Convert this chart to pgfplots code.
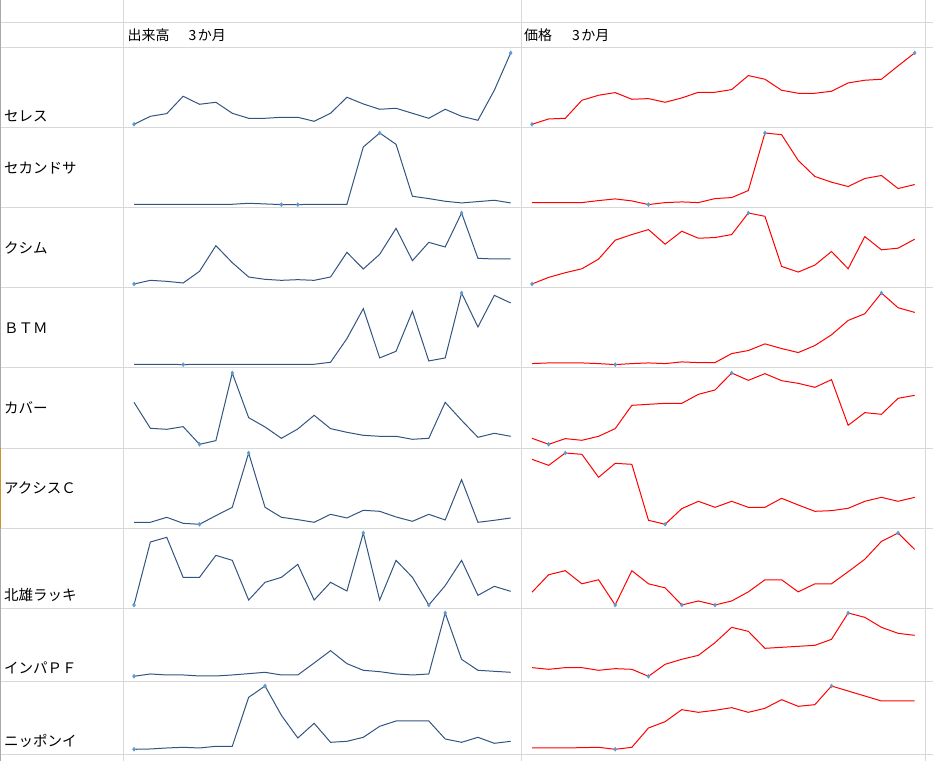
\documentclass[border=0pt]{standalone}
\usepackage{fontspec}
\setmainfont{Noto Sans CJK JP}
\usepackage{pgfplots}
\usepackage{pgfplotstable}
\pgfplotsset{compat=1.18}
\definecolor{gridc}{RGB}{216,216,216}
\definecolor{vol}{RGB}{50,84,128}
\definecolor{mk}{RGB}{91,155,213}
\definecolor{edgec}{RGB}{168,170,174}
\definecolor{selc}{RGB}{205,145,45}

\pgfplotstableread{
i  v1  v2  v3  v4  v5  v6  v7  v8  v9   p1  p2  p3  p4  p5  p6  p7  p8  p9
1  8   11  12  8   137 17  6   12  13   8   17  11  11  29  206 46  38  17
2  32  11  23  8   59  17  195 19  14   24  17  31  13  11  188 98  33  17
3  40  11  20  8   56  32  209 16  17   26  17  45  13  28  225 110 38  17
4  92  11  15  7   64  14  89  16  19   80  17  57  13  23  221 71  38  18
5  68  11  50  8   11  11  89  13  17   95  23  86  11  35  152 83  30  19
6  74  11  127 8   22  37  155 13  22   103 28  143 8   58  194 8   35  13
7  41  11  76  8   225 62  140 16  22   83  22  160 11  128 191 110 33  19
8  26  14  33  8   91  225 21  20  169  85  11  175 13  131 23  71  12  77
9  26  12  26  8   63  62  74  24  203  74  17  131 11  134 11  59  48  96
10 29  10  23  8   29  32  89  16  115  87  19  170 16  134 58  8   63  132
11 29  10  25  8   57  25  128 16  47   104 17  149 14  161 80  20  75  124
12 17  11  23  8   98  17  21  52  91   104 29  151 14  174 62  8   113 130
13 41  11  33  14  58  41  74  89  34   112 32  160 41  225 80  20  159 138
14 89  11  107 85  47  30  48  50  37   154 53  225 50  203 62  47  147 124
15 69  183 57  175 38  53  222 30  49   143 225 215 70  223 62  83  96  136
16 53  225 101 27  35  50  21  26  82   110 220 64  56  202 89  83  99  162
17 56  191 179 47  35  33  140 19  98   101 143 47  44  194 69  47  102 142
18 41  35  82  167 26  20  89  16  98   101 95  68  65  182 50  71  105 147
19 26  28  137 18  29  41  6   19  98   107 78  109 97  205 52  71  123 203
20 53  20  123 27  137 24  64  202 44   132 65  57  140 68  59  107 202 188
21 32  15  225 222 83  145 140 63  34   140 89  154 160 106 80  144 189 173
22 20  19  89  120 32  17  35  30  49   143 98  114 222 101 92  197 159 158
23 110 23  87  215 44  23  62  27  31   183 59  119 178 149 80  222 141 158
24 222 15  87  192 35  30  47  24  37   222 71  146 164 158 92  173 135 158
}\data

\pgfplotsset{spark/.style={hide axis, scale only axis, enlargelimits=false,
  clip=false, xmin=1, xmax=24, anchor=south west}}

% #1 x-left, #2 width, #3 bottom, #4 height, #5 column, #6 line colour, #7 marker coordinates
\newcommand{\spark}[7]{%
\begin{axis}[spark, at={(#1pt,#3pt)}, width=#2pt, height=#4pt]
\addplot[color=#6, line width=1pt, mark=none] table[x=i,y=#5]{\data};
\addplot[only marks, mark=diamond*, mark size=2pt, color=mk,
  mark options={draw=mk, fill=mk}] coordinates {#7};
\end{axis}}

\begin{document}
\begin{tikzpicture}[x=1pt,y=1pt]
\path[use as bounding box] (0,0) rectangle (933,761);
% grid
\begin{scope}[gridc, line width=1pt]
\foreach \yy in {738,713.5,633,553,473,393,313,233,153,79.7,6.3}
  \draw (0,\yy) -- (933,\yy);
\foreach \xx in {123.3,521.7,925.7}
  \draw (\xx,0) -- (\xx,761);
\end{scope}
\draw[edgec, line width=1.2pt] (0.6,0) -- (0.6,761);
\draw[selc, line width=1.4pt] (0.7,233) -- (0.7,313);

% headers
\node[anchor=west, inner sep=0pt, font=\fontsize{14}{16}\selectfont] at (127.5,725.5) {出来高\hspace{19pt}3\hspace{1.5pt}か月};
\node[anchor=west, inner sep=0pt, font=\fontsize{14}{16}\selectfont] at (524,725.5) {価格\hspace{20pt}3\hspace{1.5pt}か月};

% row labels
\begin{scope}[every node/.style={anchor=west, inner sep=0pt, font=\fontsize{14.5}{16}\selectfont}]
\node at (4,645) {セレス};
\node at (4,593.3) {セカンドサ};
\node at (4,513.3) {クシム};
\node at (4,433.3) {ＢＴＭ};
\node at (4,353.3) {カバー};
\node at (4,273.3) {アクシスＣ};
\node at (4,166) {北雄ラッキ};
\node at (4,93) {インパＰＦ};
\node at (4,20) {ニッポンイ};
\end{scope}

% volume sparklines
\spark{134}{376.7}{636.7}{71.4}{v1}{vol}{(1,8)(24,222)}
\spark{134}{376.7}{556.4}{71.6}{v2}{vol}{(10,10)(11,10)(16,225)}
\spark{134}{376.7}{477}{71}{v3}{vol}{(1,12)(21,225)}
\spark{134}{376.7}{396.4}{71.6}{v4}{vol}{(4,7)(21,222)}
\spark{134}{376.7}{316.7}{71.3}{v5}{vol}{(5,11)(7,225)}
\spark{134}{376.7}{236.7}{71.3}{v6}{vol}{(5,11)(8,225)}
\spark{134}{376.7}{156}{72}{v7}{vol}{(1,6)(19,6)(15,222)}
\spark{134}{376.7}{84.7}{63.3}{v8}{vol}{(1,12)(20,202)}
\spark{134}{376.7}{11.7}{63.3}{v9}{vol}{(1,13)(9,203)}

% price sparklines
\spark{532}{382.7}{636.7}{71.4}{p1}{red}{(1,8)(24,222)}
\spark{532}{382.7}{556.4}{71.6}{p2}{red}{(8,11)(15,225)}
\spark{532}{382.7}{477}{71}{p3}{red}{(1,11)(14,225)}
\spark{532}{382.7}{396.4}{71.6}{p4}{red}{(6,8)(22,222)}
\spark{532}{382.7}{316.7}{71.3}{p5}{red}{(2,11)(13,225)}
\spark{532}{382.7}{236.7}{71.3}{p6}{red}{(3,225)(9,11)}
\spark{532}{382.7}{156}{72}{p7}{red}{(6,8)(10,8)(12,8)(23,222)}
\spark{532}{382.7}{84.7}{63.3}{p8}{red}{(8,12)(20,202)}
\spark{532}{382.7}{11.7}{63.3}{p9}{red}{(6,13)(19,203)}
\end{tikzpicture}
\end{document}
